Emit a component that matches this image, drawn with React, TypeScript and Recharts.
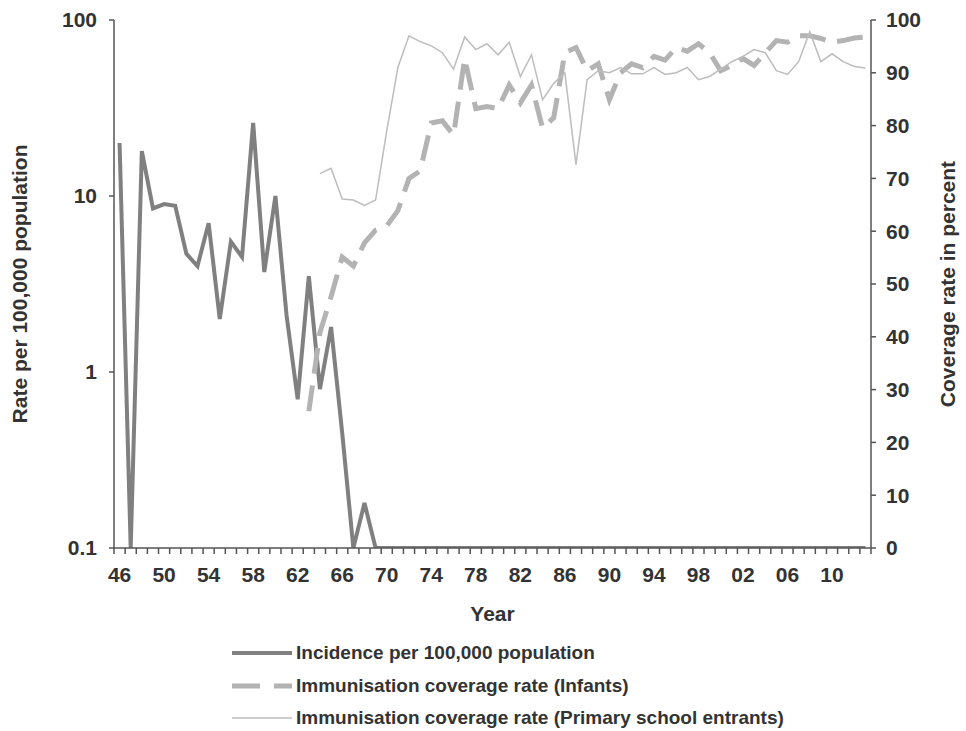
import React from 'react';
import { LineChart, Line, XAxis, YAxis, Legend } from 'recharts';

// years on the category axis
const years = [
  1946, 1947, 1948, 1949, 1950, 1951, 1952, 1953, 1954, 1955, 1956, 1957, 1958, 1959,
  1960, 1961, 1962, 1963, 1964, 1965, 1966, 1967, 1968, 1969, 1970, 1971, 1972, 1973,
  1974, 1975, 1976, 1977, 1978, 1979, 1980, 1981, 1982, 1983, 1984, 1985, 1986, 1987,
  1988, 1989, 1990, 1991, 1992, 1993, 1994, 1995, 1996, 1997, 1998, 1999, 2000, 2001,
  2002, 2003, 2004, 2005, 2006, 2007, 2008, 2009, 2010, 2011, 2012, 2013,
];

// years that get a label under the axis
const labelledYears = [
  1946, 1950, 1954, 1958, 1962, 1966, 1970, 1974, 1978, 1982, 1986, 1990, 1994, 1998,
  2002, 2006, 2010,
];

// incidence per 100,000 (0.1 = floor of the log axis)
const incidence = [
  20, 0.1, 18, 8.5, 9, 8.8, 4.7, 4.0, 7, 2.0, 5.5, 4.5, 26, 3.7,
  10, 2.1, 0.7, 3.5, 0.8, 1.8, 0.45, 0.1, 0.18, 0.1, 0.1, 0.1, 0.1, 0.1,
  0.1, 0.1, 0.1, 0.1, 0.1, 0.1, 0.1, 0.1, 0.1, 0.1, 0.1, 0.1, 0.1, 0.1,
  0.1, 0.1, 0.1, 0.1, 0.1, 0.1, 0.1, 0.1, 0.1, 0.1, 0.1, 0.1, 0.1, 0.1,
  0.1, 0.1, 0.1, 0.1, 0.1, 0.1, 0.1, 0.1, 0.1, 0.1, 0.1, 0.1,
];

// coverage, infants (%)
const infants = [
  null, null, null, null, null, null, null, null, null, null, null, null, null, null,
  null, null, null, 25.9, 40.8, 47.6, 55.1, 53.4, 57.8, 60.2, 61, 63.9, 70.0, 71.4,
  80.5, 80.9, 78.2, 92.7, 83.2, 83.6, 83.2, 87.7, 84.3, 87.7, 79.5, 81.5, 93.8, 94.8,
  90.4, 91.7, 84.9, 90.0, 91.7, 91.0, 93.1, 92.4, 94.8, 94.1, 95.5, 93.8, 90.4, 91.4,
  92.7, 91.4, 93.8, 96.1, 95.8, 97.0, 97.0, 96.5, 95.8, 96.1, 96.6, 96.8,
];

// coverage, primary school entrants (%)
const primary = [
  null, null, null, null, null, null, null, null, null, null, null, null, null, null,
  null, null, null, null, 70.9, 71.9, 66.1, 65.9, 64.9, 65.9, 79, 91, 97, 95.9,
  95.1, 93.8, 90.7, 96.8, 94.4, 95.5, 93.4, 95.8, 89.3, 93.4, 84.9, 88.0, 90.0, 72.6,
  88.7, 90.4, 90.0, 91.0, 89.8, 89.8, 91.0, 89.7, 90.0, 91.0, 88.7, 89.3, 90.7, 92.1,
  93.1, 94.4, 93.8, 90.4, 89.7, 92.1, 97.8, 92.1, 93.6, 92.1, 91.2, 90.9,
];

const rateTicks = [0.1, 1, 10, 100];
const coverageTicks = [0, 10, 20, 30, 40, 50, 60, 70, 80, 90, 100];

const data = years.map((year, i) => ({
  year,
  incidence: incidence[i],
  infants: infants[i],
  primary: primary[i],
}));

const FONT = '"Liberation Sans", Arial, sans-serif';
const AXIS = '#555555';
const TEXT = '#333333';
const TICK_SIZE = 6;
const TICK_GAP = 13;

const W = 966;
const H = 731;
const LEFT_W = 114;
const RIGHT_W = 95;
const PLOT_W = W - LEFT_W - RIGHT_W;
const HALF_BAND = PLOT_W / years.length / 2;

const tickFont = { fontFamily: FONT, fontSize: 21, fontWeight: 700, fill: TEXT };
const titleFont = { ...tickFont, fontSize: 21 };

// tick marks sit between the years, labels under every fourth year
const YearTick = (props: any) => {
  const { x, y, payload, index } = props;
  const axisY = y - TICK_SIZE - TICK_GAP;
  return (
    <g>
      <line x1={x - HALF_BAND} x2={x - HALF_BAND} y1={axisY} y2={axisY + TICK_SIZE} stroke={AXIS} strokeWidth={1.5} />
      {index === years.length - 1 && (
        <line x1={x + HALF_BAND} x2={x + HALF_BAND} y1={axisY} y2={axisY + TICK_SIZE} stroke={AXIS} strokeWidth={1.5} />
      )}
      {labelledYears.includes(payload.value) && (
        <text x={x} y={y} dy="0.71em" textAnchor="middle" {...tickFont}>
          {String(payload.value).slice(2)}
        </text>
      )}
    </g>
  );
};

const legendItems = [
  { name: 'Incidence per 100,000 population', color: '#808080', width: 4, dash: undefined },
  { name: 'Immunisation coverage rate (Infants)', color: '#b3b3b3', width: 5, dash: '28 14' },
  { name: 'Immunisation coverage rate (Primary school entrants)', color: '#bdbdbd', width: 1.5, dash: undefined },
];

const renderLegend = () => (
  <div style={{ fontFamily: FONT, fontWeight: 700, fontSize: 19, color: TEXT }}>
    {legendItems.map((item) => (
      <div key={item.name} style={{ display: 'flex', alignItems: 'center', height: 32.5 }}>
        <svg width={60} height={8} style={{ marginRight: 4 }}>
          <line x1={0} x2={60} y1={4} y2={4} stroke={item.color} strokeWidth={item.width} strokeDasharray={item.dash} />
        </svg>
        <span>{item.name}</span>
      </div>
    ))}
  </div>
);

export default function App() {
  return (
    <>
      <style>{'body { margin: 0; }'}</style>
      <LineChart width={W} height={H} data={data} margin={{ top: 20, right: 0, bottom: 0, left: 0 }}>
        <XAxis
          dataKey="year"
          type="category"
          interval={0}
          height={183}
          padding={{ left: HALF_BAND, right: HALF_BAND }}
          tickLine={false}
          tickSize={TICK_SIZE}
          tickMargin={TICK_GAP}
          tick={<YearTick />}
          axisLine={{ stroke: AXIS, strokeWidth: 1.5 }}
          label={{ value: 'Year', position: 'insideTop', offset: 58, style: titleFont }}
        />
        <YAxis
          yAxisId="rate"
          scale="log"
          domain={[0.1, 100]}
          ticks={rateTicks}
          allowDataOverflow
          width={LEFT_W}
          tickSize={5}
          tickMargin={12}
          tick={tickFont}
          tickFormatter={(v: number) => String(v)}
          axisLine={{ stroke: AXIS, strokeWidth: 1.5 }}
          tickLine={{ stroke: AXIS, strokeWidth: 1.5 }}
          label={{
            value: 'Rate per 100,000 population',
            angle: -90,
            position: 'insideLeft',
            offset: 25,
            dx: -5,
            style: { ...titleFont, textAnchor: 'middle' },
          }}
        />
        <YAxis
          yAxisId="coverage"
          orientation="right"
          domain={[0, 100]}
          ticks={coverageTicks}
          width={RIGHT_W}
          tickSize={5}
          tickMargin={10}
          tick={tickFont}
          axisLine={{ stroke: AXIS, strokeWidth: 1.5 }}
          tickLine={{ stroke: AXIS, strokeWidth: 1.5 }}
          label={{
            value: 'Coverage rate in percent',
            angle: -90,
            position: 'insideRight',
            offset: 14,
            dx: -4,
            style: { ...titleFont, textAnchor: 'middle' },
          }}
        />
        <Legend
          layout="horizontal"
          verticalAlign="middle"
          align="center"
          wrapperStyle={{ top: 637, left: 232, width: 620 }}
          content={renderLegend}
        />
        <Line
          yAxisId="rate"
          dataKey="incidence"
          stroke="#808080"
          strokeWidth={4}
          dot={false}
          isAnimationActive={false}
        />
        <Line
          yAxisId="coverage"
          dataKey="infants"
          stroke="#b3b3b3"
          strokeWidth={5}
          strokeDasharray="26 12"
          dot={false}
          isAnimationActive={false}
        />
        <Line
          yAxisId="coverage"
          dataKey="primary"
          stroke="#bdbdbd"
          strokeWidth={1.5}
          dot={false}
          isAnimationActive={false}
        />
      </LineChart>
    </>
  );
}
